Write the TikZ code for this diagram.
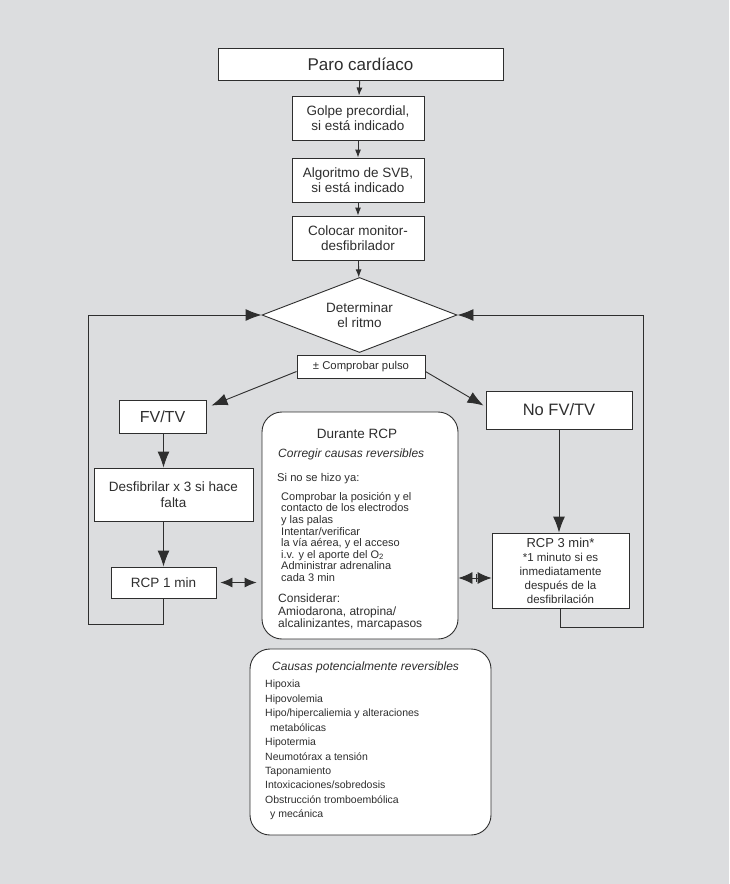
\documentclass[tikz,border=0pt]{standalone}
\usepackage{fontspec}
\setmainfont{Liberation Sans}
\usepackage{xcolor}
\usepackage{tikz}
\usetikzlibrary{shapes.geometric, arrows.meta}
\definecolor{fondo}{HTML}{DCDDDF}
\definecolor{trazo}{HTML}{2E2E2E}
\tikzstyle{box} = [rectangle,
draw=trazo,
fill=white,
line width=0.9pt,
inner sep=0pt,
text centered,
align=center,
text=trazo]
\tikzstyle{roundbox} = [box, rounded corners=20pt]
\tikzstyle{txt} = [inner sep=0pt, align=left, text=trazo]
\tikzstyle{arrow} = [draw=trazo, line width=0.9pt, -{Latex[length=8pt,width=6pt]}]
\tikzstyle{bigarrow} = [draw=trazo, line width=0.9pt, -{Latex[length=16pt,width=12pt]}]
\tikzstyle{halfarrow} = [draw=trazo, line width=0.9pt, -{Latex[length=14pt,width=12pt]}]
\tikzstyle{dblarrow} = [draw=trazo, line width=0.9pt, {Latex[length=12pt,width=10pt]}-{Latex[length=12pt,width=10pt]}]

\begin{document}
\begin{tikzpicture}[x=1pt, y=-1pt]

% Fond gris
\fill[fondo] (0,0) rectangle (729,884);

% Colonne du haut
\node[box, minimum width=285pt, minimum height=32pt, font=\fontsize{17}{19}\selectfont] (paro) at (360.5,64) {Paro cardíaco};
\node[box, minimum width=132pt, minimum height=44pt, font=\fontsize{13.5}{15.5}\selectfont] (golpe) at (358,118) {Golpe precordial,\\ si está indicado};
\node[box, minimum width=132pt, minimum height=44pt, font=\fontsize{13.5}{15.5}\selectfont] (svb) at (358,180) {Algoritmo de SVB,\\ si está indicado};
\node[box, minimum width=132pt, minimum height=44pt, font=\fontsize{13.5}{15.5}\selectfont] (monitor) at (358,238) {Colocar monitor-\\desfibrilador};

% Losange et pouls
\node[box, diamond, aspect=2.6, minimum width=195pt, minimum height=75pt, font=\fontsize{13.5}{15.5}\selectfont] (ritmo) at (359.5,315) {Determinar\\el ritmo};
\node[box, minimum width=128pt, minimum height=23pt, font=\fontsize{11.3}{13}\selectfont] (pulso) at (361,366.5) {± Comprobar pulso};

% Branche gauche
\node[box, minimum width=87pt, minimum height=33pt, font=\fontsize{16}{18}\selectfont] (fv) at (162.5,416.5) {FV/TV};
\node[box, minimum width=159pt, minimum height=53pt, font=\fontsize{13.5}{15.5}\selectfont] (desfib) at (173.5,494.5) {Desfibrilar x 3 si hace\\falta};
\node[box, minimum width=105pt, minimum height=31pt, font=\fontsize{13.5}{15.5}\selectfont] (rcpuno) at (163.5,582.5) {RCP 1 min};

% Branche droite
\node[box, minimum width=146pt, minimum height=38pt, font=\fontsize{16.5}{18}\selectfont] (nofv) at (559,410) {No FV/TV};
\node[box, minimum width=137pt, minimum height=75pt, font=\fontsize{11.5}{14}\selectfont] (rcptres) at (560.5,570.5) {\fontsize{13}{14}\selectfont RCP 3 min*\\
\fontsize{11.5}{14}\selectfont *1 minuto si es\\inmediatamente\\después de la\\desfibrilación};

% Pendant la RCP
\node[roundbox, minimum width=196pt, minimum height=227pt] (durante) at (360,525.5) {};
\node[txt, font=\fontsize{13.5}{15}\selectfont] (durtit) at (357,434) {Durante RCP};
\node[txt, anchor=west, font=\itshape\fontsize{12}{14}\selectfont] (corregir) at (278,454) {Corregir causas reversibles};
\node[txt, anchor=west, font=\fontsize{11.2}{13}\selectfont] (sino) at (277,479) {Si no se hizo ya:};
\node[txt, anchor=north west, font=\fontsize{11}{11.6}\selectfont] (pasos) at (281,492) {Comprobar la posición y el\\contacto de los electrodos\\y las palas\\Intentar/verificar\\la vía aérea, y el acceso\\i.v. y el aporte del O\textsubscript{2}\\Administrar adrenalina\\cada 3 min};
\node[txt, anchor=north west, font=\fontsize{12}{12.5}\selectfont] (considerar) at (278,594) {Considerar:\\Amiodarona, atropina/\\alcalinizantes, marcapasos};

% Causes potentiellement reversibles
\node[roundbox, minimum width=241pt, minimum height=186pt] (causas) at (370.5,742) {};
\node[txt, anchor=west, font=\itshape\fontsize{12}{14}\selectfont] (caustit) at (272,667) {Causas potencialmente reversibles};
\node[txt, anchor=north west, font=\fontsize{10.5}{14.44}\selectfont] (lista) at (265,680) {Hipoxia\\Hipovolemia\\Hipo/hipercaliemia y alteraciones\\\hspace*{5pt}metabólicas\\Hipotermia\\Neumotórax a tensión\\Taponamiento\\Intoxicaciones/sobredosis\\Obstrucción tromboembólica\\\hspace*{5pt}y mecánica};

% Fleches du haut
\draw[arrow] (paro) -- (golpe);
\draw[arrow] (golpe) -- (svb);
\draw[arrow] (svb) -- (monitor);
\draw[arrow] (monitor) -- (ritmo);

% Fleches diagonales
\draw[bigarrow] ([yshift=-5pt]pulso.west) -- ([xshift=5pt,yshift=-6pt]fv.north east);
\draw[bigarrow] ([yshift=-5pt]pulso.east) -- ([xshift=-2pt,yshift=-15pt]nofv.north west);

% Fleches verticales
\draw[bigarrow] (rcpuno.north |- fv.south) -- (rcpuno.north |- desfib.north);
\draw[bigarrow] (rcpuno.north |- desfib.south) -- (rcpuno.north);
\draw[bigarrow] (nofv.south) -- (nofv.south |- rcptres.north);

% Boucles de retour
\coordinate (izq) at (88,624);
\coordinate (der) at (643,627);
\draw[bigarrow] (rcpuno.south) |- (izq) |- (ritmo.west);
\draw[bigarrow] (rcptres.south) |- (der) |- (ritmo.east);

% Doubles fleches
\draw[dblarrow, shorten <=4pt, shorten >=5pt] (rcpuno.east) -- (durante.west |- rcpuno.east);
\coordinate (medio) at (476,578);
\draw[halfarrow] (medio) -- (durante.east |- medio);
\draw[halfarrow] (medio) -- (rcptres.west |- medio);
\draw[draw=trazo, line width=0.9pt] ([yshift=4pt]medio) -- ([yshift=-4pt]medio);

\end{tikzpicture}
\end{document}
